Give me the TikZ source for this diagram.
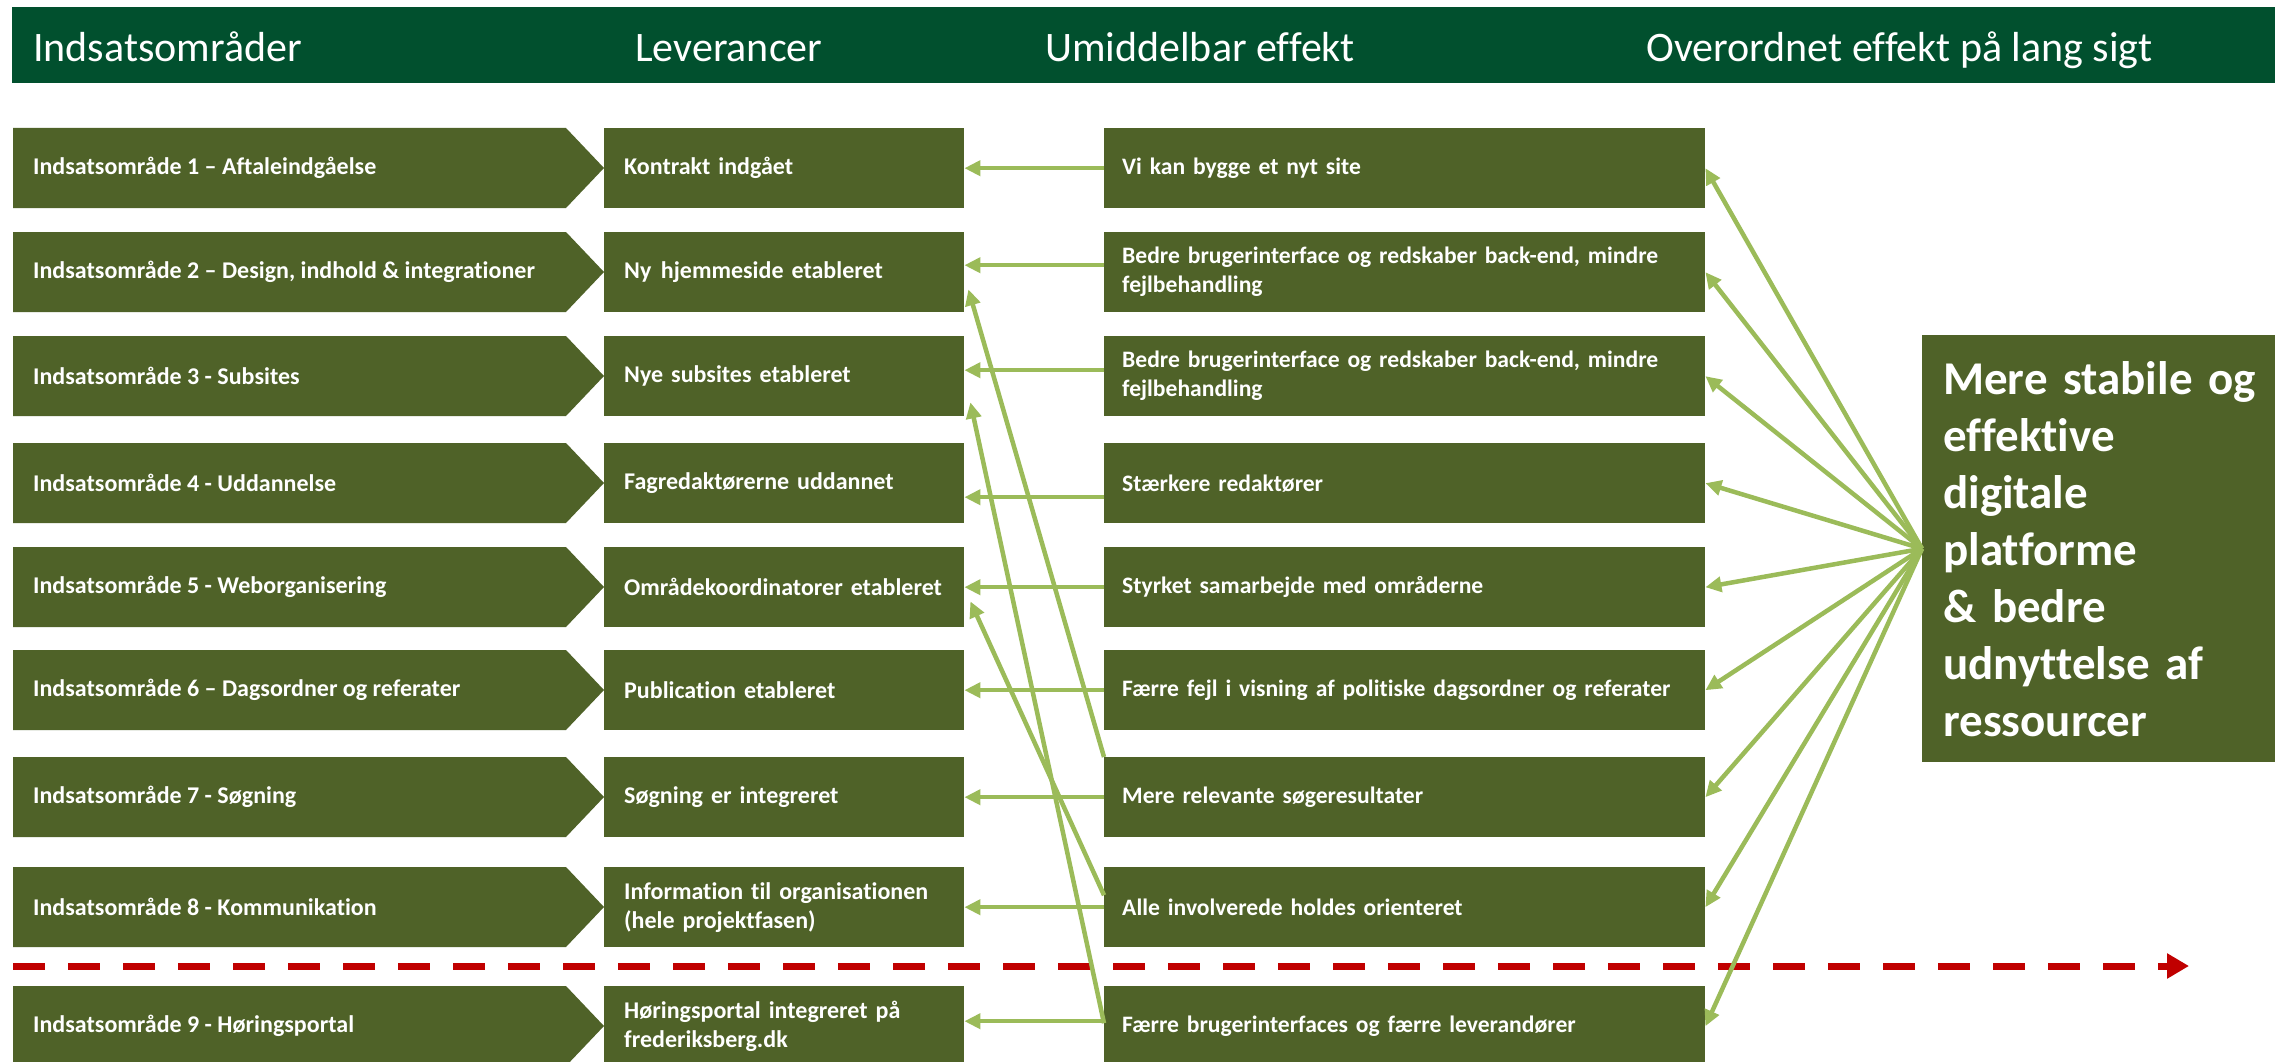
\documentclass[tikz,border=0pt]{standalone}
\usepackage{fontspec}
\setmainfont{Carlito}[Ligatures={NoCommon}]
\usetikzlibrary{arrows.meta}
\definecolor{hdr}{RGB}{1,80,46}
\definecolor{boxg}{RGB}{79,98,40}
\definecolor{arrg}{RGB}{155,187,89}
\definecolor{dashred}{RGB}{192,0,0}
\begin{document}
\begin{tikzpicture}[x=1pt,y=-1pt,
  hdrtxt/.style={text=white,font=\fontsize{42}{50}\selectfont,anchor=base west,inner sep=0pt},
  ltxt/.style={text=white,font=\bfseries\fontsize{24}{29}\selectfont,anchor=west,inner sep=0pt},
  levbox/.style={fill=boxg,text=white,font=\bfseries\fontsize{24}{29}\selectfont,anchor=north west,
    minimum width=360pt,minimum height=80pt,text width=320pt,inner xsep=20pt,inner ysep=0pt,align=left},
  umidbox/.style={fill=boxg,text=white,font=\bfseries\fontsize{23.6}{29}\selectfont,anchor=north west,
    minimum width=601pt,minimum height=80pt,text width=565pt,inner xsep=18pt,inner ysep=0pt,align=left},
  bigbox/.style={fill=boxg,text=white,font=\bfseries\fontsize{47}{57}\selectfont,anchor=north west,
    minimum width=370pt,minimum height=427pt,text width=328pt,inner xsep=21pt,inner ysep=0pt,align=left},
  garrow/.style={draw=arrg,line width=4.5pt,-{Triangle[length=16pt,width=15pt]}},
]
\useasboundingbox (0,0) rectangle (2275,1062);
\fill[white] (0,0) rectangle (2275,1062);
% header
\fill[hdr] (12,7) rectangle (2275,83);
\node[hdrtxt] (h1) at (33,62) {Indsatsområder};
\node[hdrtxt] (h2) at (635,62) {Leverancer};
\node[hdrtxt] (h3) at (1045,62) {Umiddelbar effekt};
\node[hdrtxt] (h4) at (1646,62) {Overordnet effekt på lang sigt};
% left chevrons
\foreach \t in {128,232,336,443,547,650,757,867,986}
  \fill[boxg] (13,\t) -- (566,\t) -- (604,\t+40) -- (566,\t+80) -- (13,\t+80) -- cycle;
\node[ltxt] (i1) at (33,168) {Indsatsområde 1 – Aftaleindgåelse};
\node[ltxt] (i2) at (33,272) {Indsatsområde 2 – Design, indhold \& integrationer};
\node[ltxt] (i3) at (33,376) {Indsatsområde 3 - Subsites};
\node[ltxt] (i4) at (33,483) {Indsatsområde 4 - Uddannelse};
\node[ltxt] (i5) at (33,587) {Indsatsområde 5 - Weborganisering};
\node[ltxt] (i6) at (33,690) {Indsatsområde 6 – Dagsordner og referater};
\node[ltxt] (i7) at (33,797) {Indsatsområde 7 - Søgning};
\node[ltxt] (i8) at (33,907) {Indsatsområde 8 - Kommunikation};
\node[ltxt] (i9) at (33,1026) {Indsatsområde 9 - Høringsportal};
% leverancer
\node[levbox] (l1) at (604,128) {Kontrakt indgået};
\node[levbox] (l2) at (604,232) {Ny\hspace{0.4em}hjemmeside etableret};
\node[levbox] (l3) at (604,336) {Nye subsites etableret};
\node[levbox] (l4) at (604,443) {Fagredaktørerne uddannet};
\node[levbox] (l5) at (604,547) {Områdekoordinatorer etableret};
\node[levbox] (l6) at (604,650) {Publication etableret};
\node[levbox] (l7) at (604,757) {Søgning er integreret};
\node[levbox] (l8) at (604,867) {Information til organisationen\\(hele projektfasen)};
\node[levbox] (l9) at (604,986) {Høringsportal integreret på\\frederiksberg.dk};
% umiddelbar effekt
\node[umidbox] (u1) at (1104,128) {Vi kan bygge et nyt site};
\node[umidbox] (u2) at (1104,232) {Bedre brugerinterface og redskaber back-end, mindre\\fejlbehandling};
\node[umidbox] (u3) at (1104,336) {Bedre brugerinterface og redskaber back-end, mindre\\fejlbehandling};
\node[umidbox] (u4) at (1104,443) {Stærkere redaktører};
\node[umidbox] (u5) at (1104,547) {Styrket samarbejde med områderne};
\node[umidbox] (u6) at (1104,650) {Færre fejl i visning af politiske dagsordner og referater};
\node[umidbox] (u7) at (1104,757) {Mere relevante søgeresultater};
\node[umidbox] (u8) at (1104,867) {Alle involverede holdes orienteret};
\node[umidbox] (u9) at (1104,986) {Færre brugerinterfaces og færre leverandører};
% big box
\node[bigbox] (big) at (1922,335) {Mere stabile og\\effektive\\digitale\\platforme\\\& bedre\\udnyttelse af\\ressourcer};
% red dashed timeline
\coordinate (ra) at (13,966);
\coordinate (rb) at (2189,966);
\draw[dashred,line width=7pt,dash pattern=on 32pt off 23pt,-{Triangle[length=22pt,width=24pt]}] (ra) -- (rb);
% horizontal arrows
\draw[garrow] (u1.west) -- (l1.east);
\draw[garrow] ([yshift=7pt]u2.west) -- ([yshift=7pt]l2.east);
\draw[garrow] ([yshift=6pt]u3.west) -- ([yshift=6pt]l3.east);
\draw[garrow] ([yshift=-14pt]u4.west) -- ([yshift=-14pt]l4.east);
\draw[garrow] (u5.west) -- (l5.east);
\draw[garrow] (u6.west) -- (l6.east);
\draw[garrow] (u7.west) -- (l7.east);
\draw[garrow] (u8.west) -- (l8.east);
\draw[garrow] ([yshift=5pt]u9.west) -- ([yshift=5pt]l9.east);
% crossing arrows
\draw[garrow] (u7.north west) -- ([xshift=4pt,yshift=23pt]l2.south east);
\draw[garrow] ([yshift=12pt]u8.west) -- ([xshift=6pt,yshift=26pt]l5.south east);
\draw[garrow] ([yshift=3pt]u9.west) -- ([xshift=6pt,yshift=14pt]l3.south east);
% fan arrows
\foreach \i in {1,...,9}
  \draw[garrow] (big.west) -- (u\i.east);
\end{tikzpicture}
\end{document}
